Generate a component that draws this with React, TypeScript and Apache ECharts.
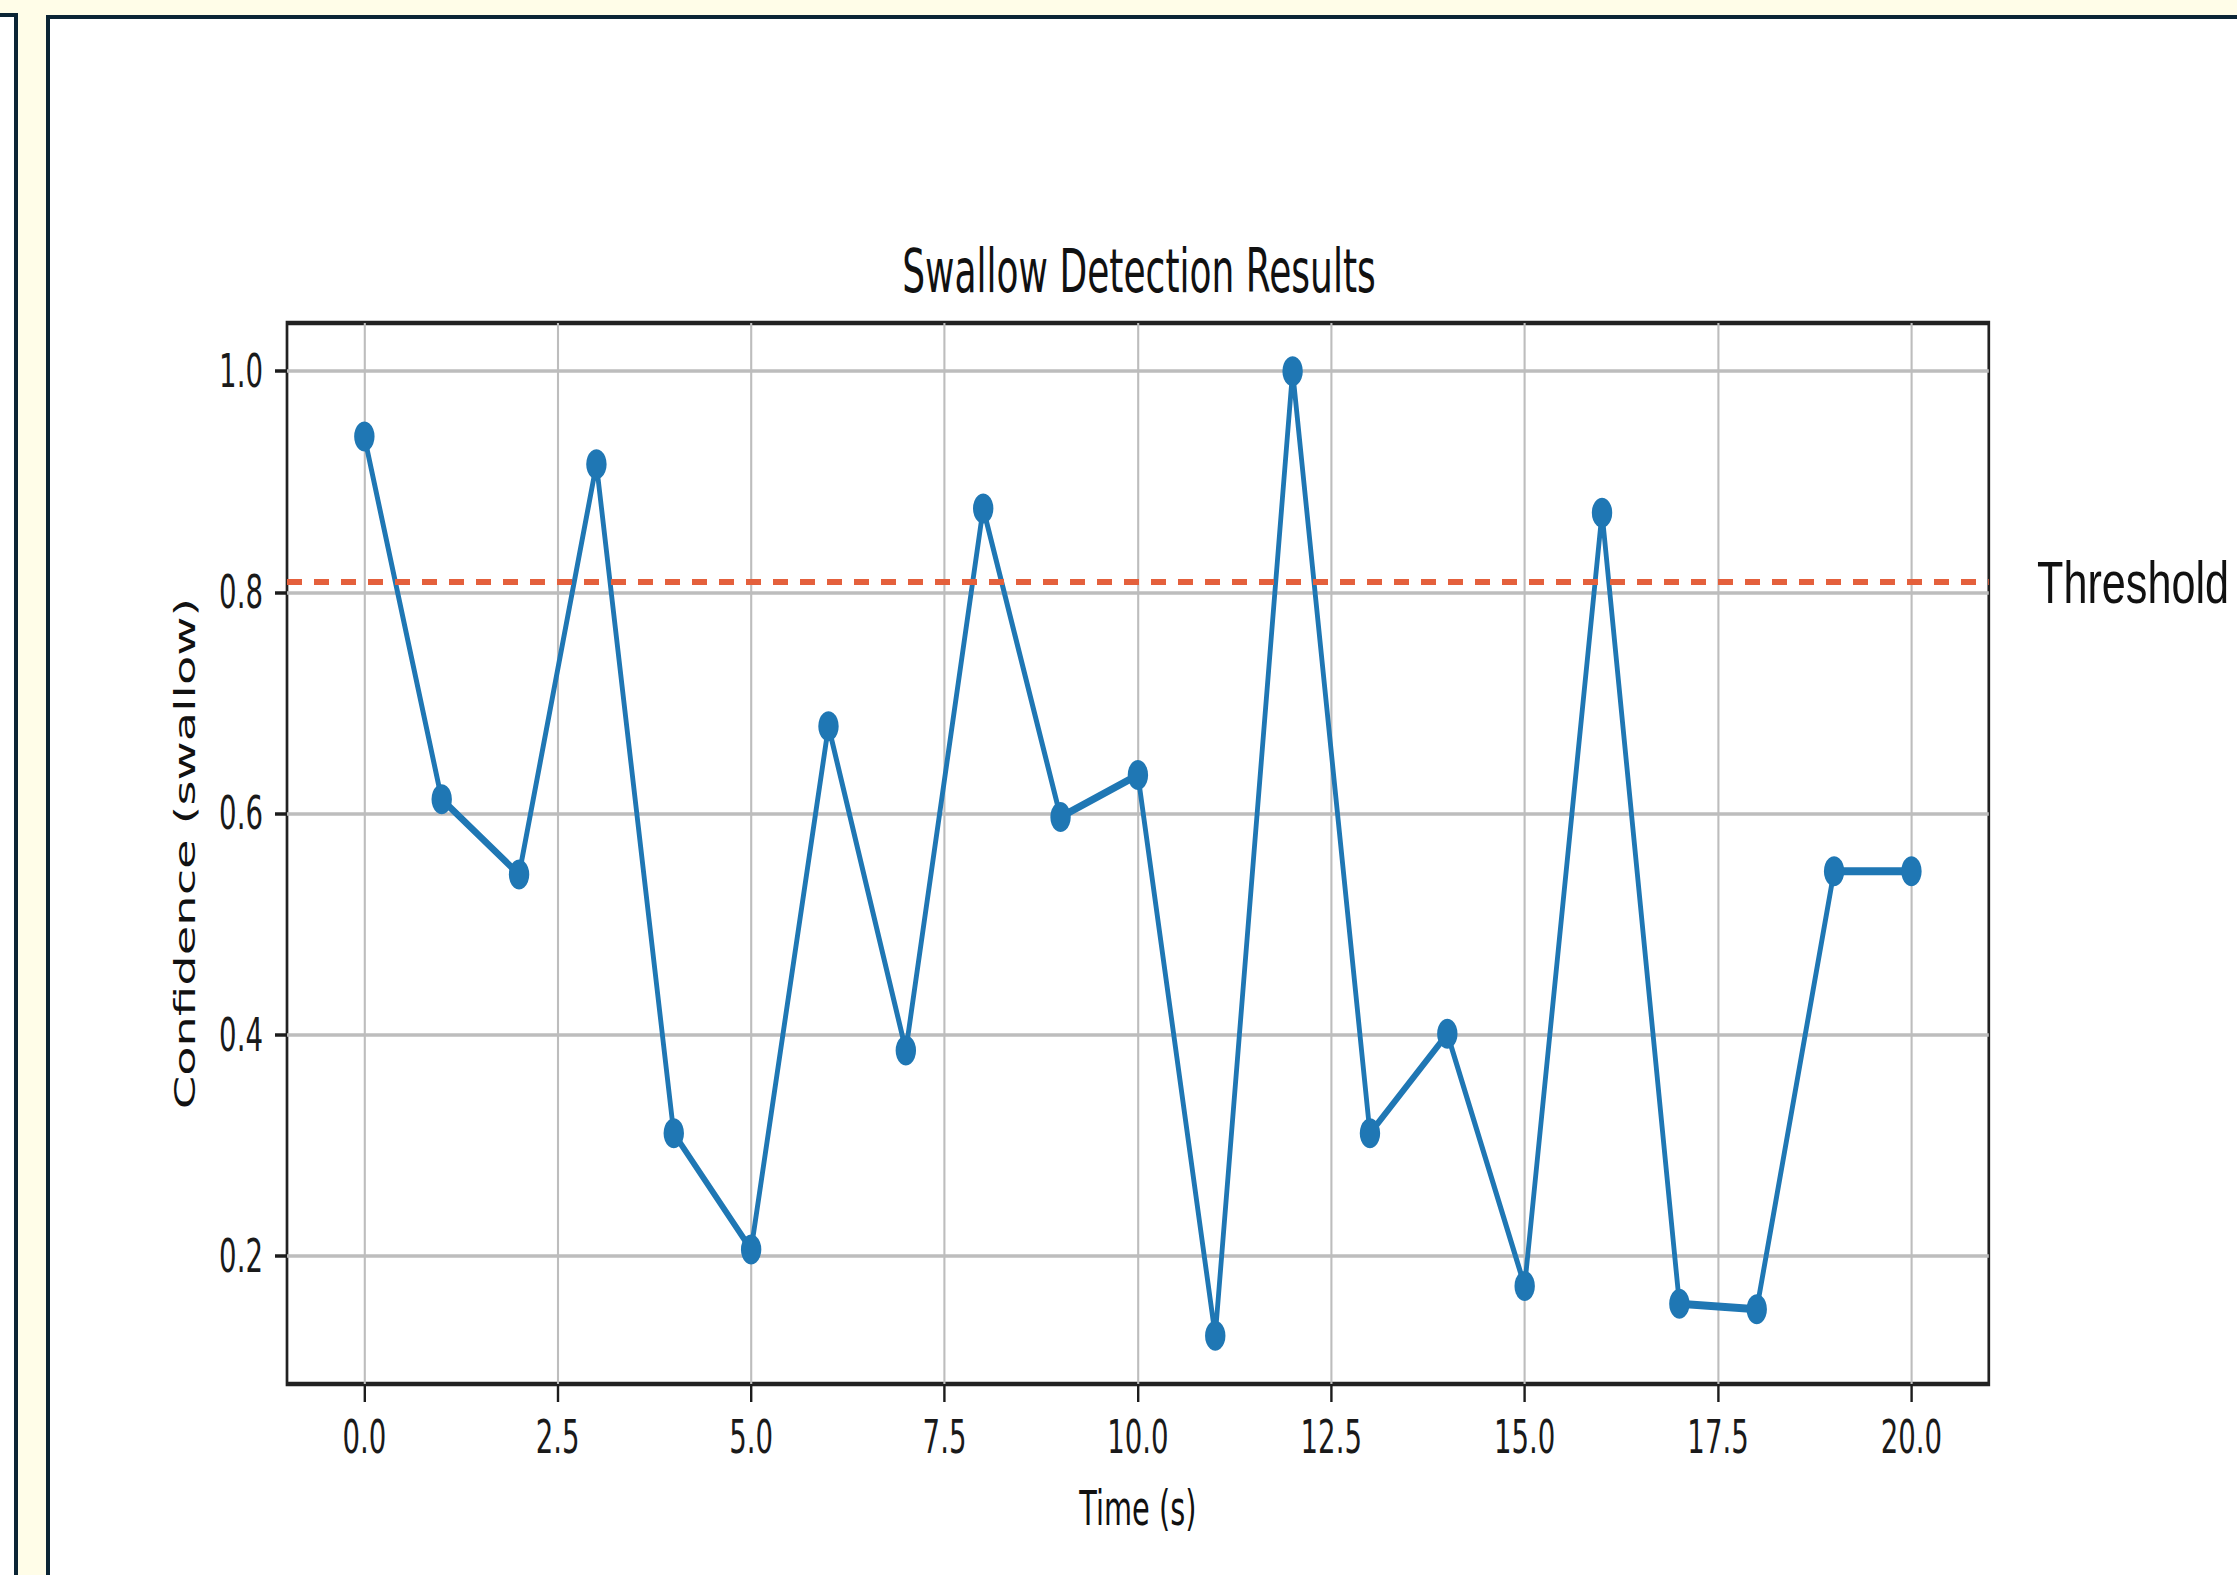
import React, { useEffect, useRef } from "react";
import * as echarts from "echarts";

// ---- data ----
const times = [0, 1, 2, 3, 4, 5, 6, 7, 8, 9, 10, 11, 12, 13, 14, 15, 16, 17, 18, 19, 20];
const confidence = [
  0.941, 0.613, 0.545, 0.916, 0.311, 0.206, 0.679, 0.386, 0.876, 0.597, 0.635,
  0.128, 1.0, 0.311, 0.401, 0.173, 0.872, 0.157, 0.152, 0.548, 0.548,
];
const threshold = 0.807;
const xTicks = [0, 2.5, 5, 7.5, 10, 12.5, 15, 17.5, 20];
const yTicks = [0.2, 0.4, 0.6, 0.8, 1.0];
const titleText = "Swallow Detection Results";
const xName = "Time (s)";
const yName = "Confidence (swallow)";
const thresholdLabel = "Threshold";

// ---- layout ----
const PAGE_W = 2237;
const PAGE_H = 1575;
const S = 0.6; // horizontal squash of the reference picture
const CW = PAGE_W / S;

const BLUE = "#1f77b4";
const RED = "#e4603c";
const FONT = "DejaVu Sans";

function pad(arr: number[]) {
  const lo = Math.min(...arr);
  const hi = Math.max(...arr);
  const m = (hi - lo) * 0.05;
  return [lo - m, hi + m];
}

export default function App() {
  const ref = useRef<HTMLDivElement>(null);

  useEffect(() => {
    if (!ref.current) return;
    const chart = echarts.init(ref.current, undefined, { renderer: "svg" });
    const [xMin, xMax] = pad(times);
    const [yMin, yMax] = pad(confidence);
    const fmt = (v: number) => Number(v).toFixed(1);

    chart.setOption({
      animation: false,
      backgroundColor: "transparent",
      title: {
        text: titleText,
        left: 1136 / S,
        top: 236,
        textAlign: "center",
        textStyle: { fontFamily: FONT, fontSize: 60, fontWeight: "normal", color: "#111" },
      },
      grid: {
        left: 287 / S,
        right: CW - 1989 / S,
        top: 323,
        bottom: PAGE_H - 1384,
        show: true,
        borderColor: "#222222",
        borderWidth: 4.5,
        backgroundColor: "transparent",
      },
      xAxis: {
        type: "value",
        min: xMin,
        max: xMax,
        name: xName,
        nameLocation: "middle",
        nameGap: 100,
        nameTextStyle: { fontFamily: FONT, fontSize: 48, color: "#111" },
        axisLine: { show: false, onZero: false },
        axisTick: {
          show: true,
          length: 18,
          customValues: xTicks,
          lineStyle: { color: "#1c1c1c", width: 4 },
        },
        axisLabel: {
          customValues: xTicks,
          formatter: fmt,
          margin: 30,
          fontFamily: FONT,
          fontSize: 46,
          color: "#1a1a1a",
        },
        splitLine: { show: true, lineStyle: { color: "#bdbdbd", width: 3.5 } },
      },
      yAxis: {
        type: "value",
        min: yMin,
        max: yMax,
        name: yName,
        nameLocation: "middle",
        nameGap: 146,
        nameTextStyle: { fontFamily: FONT, fontSize: 48, color: "#111" },
        axisLine: { show: false, onZero: false },
        axisTick: {
          show: true,
          length: 20,
          customValues: yTicks,
          lineStyle: { color: "#1c1c1c", width: 3.5 },
        },
        axisLabel: {
          customValues: yTicks,
          formatter: fmt,
          margin: 40,
          fontFamily: FONT,
          fontSize: 46,
          color: "#1a1a1a",
        },
        splitLine: { show: true, lineStyle: { color: "#bdbdbd", width: 3.5 } },
      },
      series: [
        {
          type: "line",
          data: times.map((t, i) => [t, confidence[i]]),
          symbol: "circle",
          symbolSize: [34, 30],
          lineStyle: { color: BLUE, width: 8 },
          itemStyle: { color: BLUE },
          z: 3,
          markLine: {
            silent: true,
            symbol: "none",
            label: { show: false },
            lineStyle: { type: [25, 20], color: RED, width: 6 },
            data: [{ yAxis: threshold }],
            z: 4,
          },
        },
      ],
      graphic: [
        {
          type: "text",
          x: 2037 / S,
          y: 582,
          scaleX: 1.2,
          style: {
            text: thresholdLabel,
            fontFamily: "Liberation Sans",
            fontSize: 60,
            fill: "#111",
            textAlign: "left",
            textVerticalAlign: "middle",
          },
        },
      ],
    });
    return () => chart.dispose();
  }, []);

  return (
    <div
      style={{
        position: "fixed",
        left: 0,
        top: 0,
        width: PAGE_W,
        height: PAGE_H,
        background: "#fffde8",
        overflow: "hidden",
      }}
    >
      <div
        style={{
          position: "absolute",
          left: -50,
          top: 13,
          width: 68,
          height: 2000,
          boxSizing: "border-box",
          border: "4px solid #0b2535",
          background: "#ffffff",
        }}
      />
      <div
        style={{
          position: "absolute",
          left: 46,
          top: 15,
          width: 3000,
          height: 3000,
          boxSizing: "border-box",
          border: "4px solid #0b2535",
          background: "#ffffff",
        }}
      />
      <div
        ref={ref}
        style={{
          position: "absolute",
          left: 0,
          top: 0,
          width: CW,
          height: PAGE_H,
          transform: `scaleX(${S})`,
          transformOrigin: "0 0",
        }}
      />
    </div>
  );
}
